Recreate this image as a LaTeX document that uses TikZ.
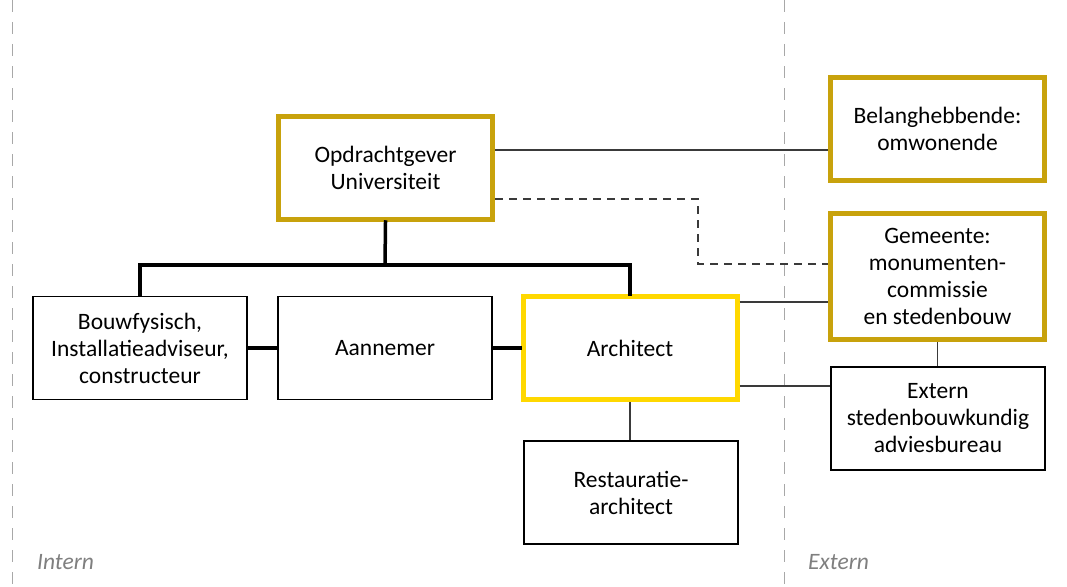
\documentclass[tikz,border=0pt]{standalone}
\usepackage{fontspec}
\setmainfont{Carlito}
\definecolor{gold}{HTML}{C8A20C}
\definecolor{sun}{HTML}{FFD800}
\definecolor{divider}{HTML}{A8A8A8}
\definecolor{sidelabel}{HTML}{7F7F7F}
\definecolor{link}{HTML}{3A3A3A}
\begin{document}
\begin{tikzpicture}[x=1pt,y=-1pt,
  box/.style={draw=black,line width=1.8pt,rectangle,align=center,
    minimum width=214pt,minimum height=103pt,inner sep=0pt,
    font=\fontsize{23.5}{27}\selectfont},
  goldbox/.style={box,draw=gold,line width=5pt},
  sunbox/.style={box,draw=sun,line width=5pt},
  tree/.style={line width=3.5pt,line cap=rect},
  thin/.style={draw=link,line width=1.1pt},
  loose/.style={draw=link,line width=1.1pt,dash pattern=on 8pt off 6pt},
  divide/.style={draw=divider,line width=1pt,dash pattern=on 12pt off 10pt},
  side/.style={font=\fontsize{23.5}{27}\selectfont\itshape,text=sidelabel,anchor=base west,inner sep=0pt}]
\useasboundingbox (0,0) rectangle (1067,586);

% internal / external separators
\coordinate (s1t) at (12,0);   \coordinate (s1b) at (12,586);
\coordinate (s2t) at (784,0);  \coordinate (s2b) at (784,586);
\draw[divide] (s1t) -- (s1b);
\draw[divide] (s2t) -- (s2b);
\node[side] (lin) at (37,569) {Intern};
\node[side] (lex) at (808,569) {Extern};

% organisation boxes
\node[goldbox] (opd)  at (385.5,168)   {Opdrachtgever\\Universiteit};
\node[box]     (bouw) at (140,348)     {Bouwfysisch,\\Installatieadviseur,\\constructeur};
\node[box]     (aan)  at (385,348)     {Aannemer};
\node[sunbox]  (arch) at (630,348)     {Architect};
\node[box]     (rest) at (631,492.5)   {Restauratie-\\architect};
\node[goldbox] (bel)  at (937.5,129)   {Belanghebbende:\\omwonende};
\node[goldbox,minimum height=126pt] (gem) at (937.5,276.5) {Gemeente:\\monumenten-\\commissie\\en stedenbouw};
\node[box]     (ext)  at (938,418.5)   {Extern\\stedenbouwkundig\\adviesbureau};

% hierarchy
\coordinate (bar) at (385,265);
\draw[tree] (opd.south) -- (bar);
\draw[tree] (bouw.north) |- (bar) -| (arch.north);
\draw[tree] (bouw.east) -- (aan.west);
\draw[tree] (aan.east) -- (arch.west);

% external relations
\coordinate (a1) at ([yshift=18pt]opd.east);
\draw[thin] (a1) -- (a1 -| bel.west);
\coordinate (d1) at ([yshift=-31pt]opd.east);
\coordinate (dk) at (698,264);
\draw[loose] (d1) -| (dk) -- (dk -| gem.west);
\coordinate (a2) at ([yshift=46pt]arch.east);
\draw[thin] (a2) -- (a2 -| gem.west);
\coordinate (a3) at ([yshift=-38pt]arch.east);
\draw[thin] (a3) -- (a3 -| ext.west);
\draw[thin] (arch.south) -- (arch.south |- rest.north);
\draw[thin] (gem.south) -- (gem.south |- ext.north);
\end{tikzpicture}
\end{document}
